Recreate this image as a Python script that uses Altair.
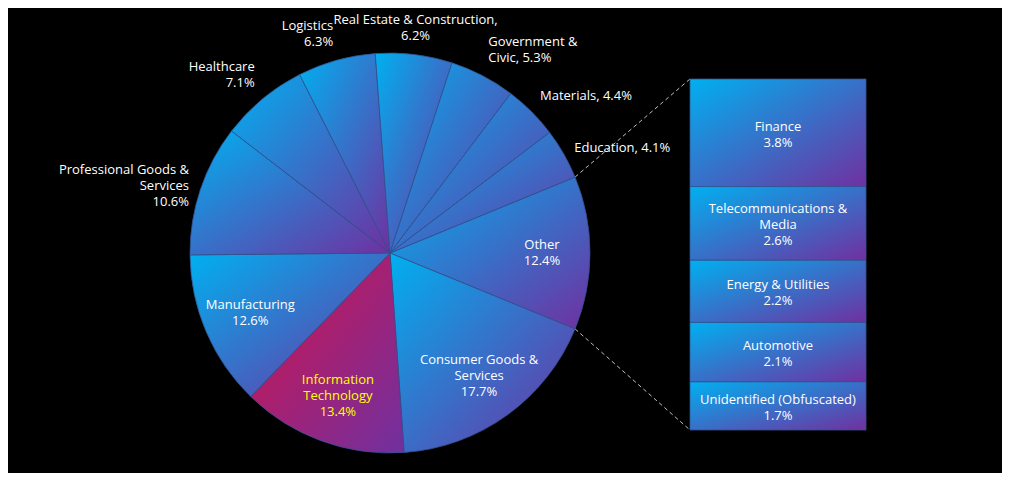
import math
import altair as alt
import pandas as pd

# ---- data ----
main_cats = ["Other", "Consumer Goods & Services", "Information Technology", "Manufacturing",
             "Professional Goods & Services", "Healthcare", "Logistics",
             "Real Estate & Construction", "Government & Civic", "Materials", "Education"]
main_vals = [12.4, 17.7, 13.4, 12.6, 10.6, 7.1, 6.3, 6.2, 5.3, 4.4, 4.1]
main_text = ["Other\n12.4%", "Consumer Goods &\nServices\n17.7%", "Information\nTechnology\n13.4%",
             "Manufacturing\n12.6%", "Professional Goods &\nServices\n10.6%", "Healthcare\n7.1%",
             "Logistics\n6.3%", "Real Estate & Construction,\n6.2%", "Government &\nCivic, 5.3%",
             "Materials, 4.4%", "Education, 4.1%"]

sub_cats = ["Finance", "Telecommunications & Media", "Energy & Utilities", "Automotive",
            "Unidentified (Obfuscated)"]
sub_vals = [3.8, 2.6, 2.2, 2.1, 1.7]
sub_text = ["Finance\n3.8%", "Telecommunications &\nMedia\n2.6%", "Energy & Utilities\n2.2%",
            "Automotive\n2.1%", "Unidentified (Obfuscated)\n1.7%"]

pie_df = pd.DataFrame({"cat": main_cats, "value": main_vals, "label": main_text,
                       "idx": list(range(len(main_cats)))})
sub_df = pd.DataFrame({"cat": sub_cats, "value": sub_vals, "label": sub_text,
                       "sidx": list(range(len(sub_cats)))})

# ---- layout / style ----
CX, CY, R = 382, 245, 200
BX0, BX1, BYB, BYT = 682, 858, 422, 71
FONT = "Open Sans"
FS = 13
LH = 16

BLUE = {"gradient": "linear", "x1": 0, "y1": 0, "x2": 1, "y2": 1,
        "stops": [{"offset": 0, "color": "#00b0f0"}, {"offset": 1, "color": "#7030a0"}]}
RED = {"gradient": "linear", "x1": 0, "y1": 0, "x2": 1, "y2": 1,
       "stops": [{"offset": 0, "color": "#d4134a"}, {"offset": 1, "color": "#7030a0"}]}
EDGE = "#33508f"

total = sum(main_vals)
start = math.pi / 2 - math.pi * main_vals[0] / total
end = start + 2 * math.pi * main_vals[0] / total

NL = "length(split(datum.label, '\\n'))"

base = (alt.Chart(pie_df)
        .transform_joinaggregate(total="sum(value)")
        .transform_window(cum="sum(value)", sort=[alt.SortField("idx", order="ascending")],
                          frame=[None, 0])
        .transform_calculate(a0=f"{start} + 2*PI*(datum.cum - datum.value)/datum.total",
                             a1=f"{start} + 2*PI*datum.cum/datum.total",
                             nl=NL)
        .transform_calculate(amid="(datum.a0 + datum.a1)/2", inside="datum.value >= 12"))

arcs = base.mark_arc(outerRadius=R, stroke=EDGE, strokeWidth=0.8).encode(
    theta=alt.Theta("a0:Q", scale=None),
    theta2=alt.Theta2("a1:Q"),
    x=alt.value(CX), y=alt.value(CY),
    fill=alt.condition("datum.cat === 'Information Technology'", alt.value(RED), alt.value(BLUE)),
)

labels = base.transform_calculate(r="datum.inside ? 152 : 212").mark_text(
    font=FONT, fontSize=FS, lineBreak="\n", lineHeight=LH,
    align=alt.expr("datum.inside ? 'center' : (sin(datum.amid) > 0.3 ? 'left' : (sin(datum.amid) < -0.2 ? 'right' : 'center'))"),
    baseline=alt.expr("datum.inside || abs(sin(datum.amid)) > 0.85 ? 'middle' : (cos(datum.amid) > 0 ? 'bottom' : 'top')"),
    dy=alt.expr(f"datum.inside || abs(sin(datum.amid)) > 0.85 ? -(datum.nl - 1) * {LH / 2} : (cos(datum.amid) > 0 ? -(datum.nl - 1) * {LH} : 0)"),
).encode(
    theta=alt.Theta("amid:Q", scale=None),
    radius=alt.Radius("r:Q", scale=None),
    x=alt.value(CX), y=alt.value(CY),
    text="label:N",
    color=alt.condition("datum.cat === 'Information Technology'", alt.value("#ffff00"), alt.value("#ffffff")),
)

ysc = alt.Scale(domain=[0, sum(sub_vals)], range=[BYB, BYT], nice=False, zero=False)
bbase = (alt.Chart(sub_df)
         .transform_window(cum="sum(value)", sort=[alt.SortField("sidx", order="descending")],
                           frame=[None, 0])
         .transform_calculate(y0="datum.cum - datum.value", ym="datum.cum - datum.value/2",
                              nl=NL))

bars = bbase.mark_rect(fill=BLUE, stroke=EDGE, strokeWidth=0.8).encode(
    x=alt.value(BX0), x2=alt.value(BX1),
    y=alt.Y("y0:Q", scale=ysc, axis=None), y2="cum:Q",
)
btext = bbase.mark_text(font=FONT, fontSize=FS, lineBreak="\n", lineHeight=LH,
                        color="#ffffff", baseline="middle", align="center",
                        dy=alt.expr(f"-(datum.nl - 1) * {LH / 2} + 2")).encode(
    x=alt.value((BX0 + BX1) / 2),
    y=alt.Y("ym:Q", scale=ysc, axis=None),
    text="label:N",
)

one = pd.DataFrame({"k": [0]})
def conn(x0, y0, x1, y1):
    return alt.Chart(one).mark_rule(color="#bfbfbf", strokeDash=[4, 3], strokeWidth=1).encode(
        x=alt.value(x0), y=alt.value(y0), x2=alt.value(x1), y2=alt.value(y1))

up = conn(CX + R * math.sin(start), CY - R * math.cos(start), BX0, BYT)
lo = conn(CX + R * math.sin(end), CY - R * math.cos(end), BX0, BYB)

chart = alt.layer(up, lo, arcs, bars, labels, btext).properties(
    width=994, height=465, padding=0, autosize="none", background="#000000"
).configure_view(stroke=None)

chart.save("out.html", embed_options={"renderer": "svg", "actions": False})
